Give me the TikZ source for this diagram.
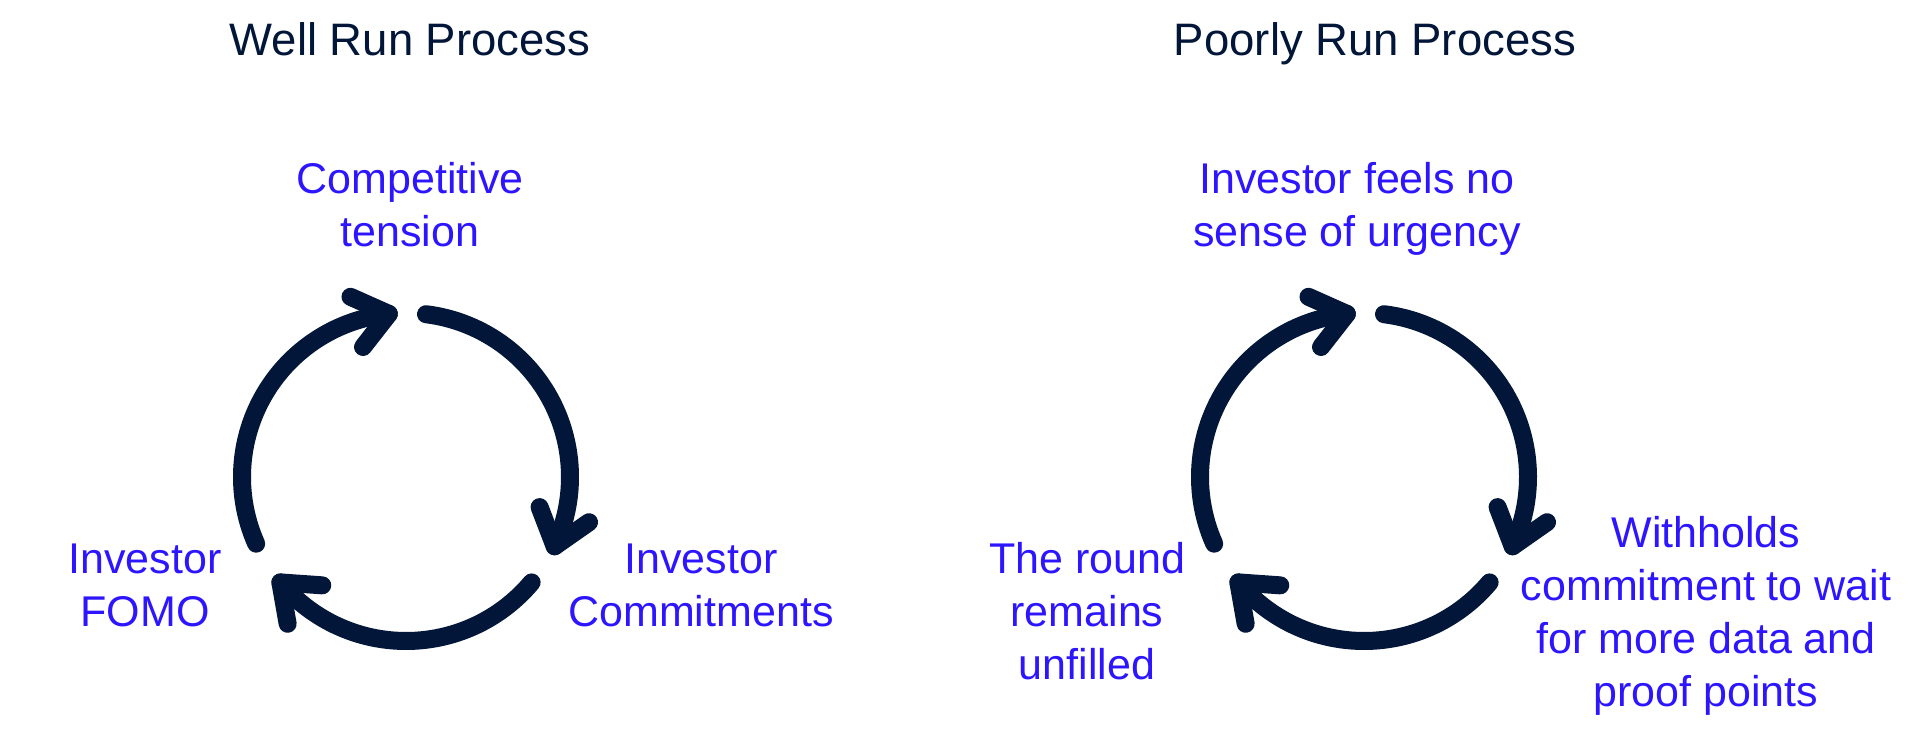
\documentclass[tikz,border=0pt]{standalone}
\usepackage{fontspec}
\setmainfont{Liberation Sans}
\usetikzlibrary{calc}
\definecolor{navy}{HTML}{011638}
\definecolor{vblue}{HTML}{2D16FF}
\tikzset{
  loopline/.style={draw=navy, line width=18pt, line cap=round, line join=round},
  title/.style={text=navy, inner sep=0pt, anchor=base, font=\fontsize{45.5}{55}\selectfont},
  label/.style={text=vblue, inner sep=0pt, anchor=base, align=center, font=\fontsize{43}{53}\selectfont}
}
% #1 centre, #2 start angle, #3 end angle (arrow end), #4 radius, #5 tip name
\newcommand{\cyclearc}[5]{%
  \draw[loopline] (#1) ++(#2:#4) arc[start angle=#2, end angle=#3, radius=#4];
  \path (#1) ++(#3:#4) coordinate (#5);
  \draw[loopline] (#5) ++(#3+136:42) -- (#5) -- ++(#3+60:42);
}
\begin{document}
\begin{tikzpicture}[x=1pt,y=1pt]
\useasboundingbox (0,0) rectangle (1920,736);
\fill[white] (0,0) rectangle (1920,736);

% titles
\node[title] (titleL) at (410,680) {Well Run Process};
\node[title] (titleR) at (1375,680) {Poorly Run Process};

% left cycle
\coordinate (cL) at (406,259);
\cyclearc{cL}{204}{96}{164}{tipL1}
\cyclearc{cL}{83}{-25}{164}{tipL2}
\cyclearc{cL}{-40}{-140}{164}{tipL3}

\node[label] (compet) at (410,489) {Competitive\\tension};
\node[label] (fomo) at (145,109) {Investor\\FOMO};
\node[label] (commit) at (701,109) {Investor\\Commitments};

% right cycle
\coordinate (cR) at (1364,259);
\cyclearc{cR}{204}{96}{164}{tipR1}
\cyclearc{cR}{83}{-25}{164}{tipR2}
\cyclearc{cR}{-40}{-140}{164}{tipR3}

\node[label] (urgency) at (1357,489) {Investor feels no\\sense of urgency};
\node[label] (unfilled) at (1087,56) {The round\\remains\\unfilled};
\node[label] (withhold) at (1706,29) {Withholds\\commitment to wait\\for more data and\\proof points};
\end{tikzpicture}
\end{document}
